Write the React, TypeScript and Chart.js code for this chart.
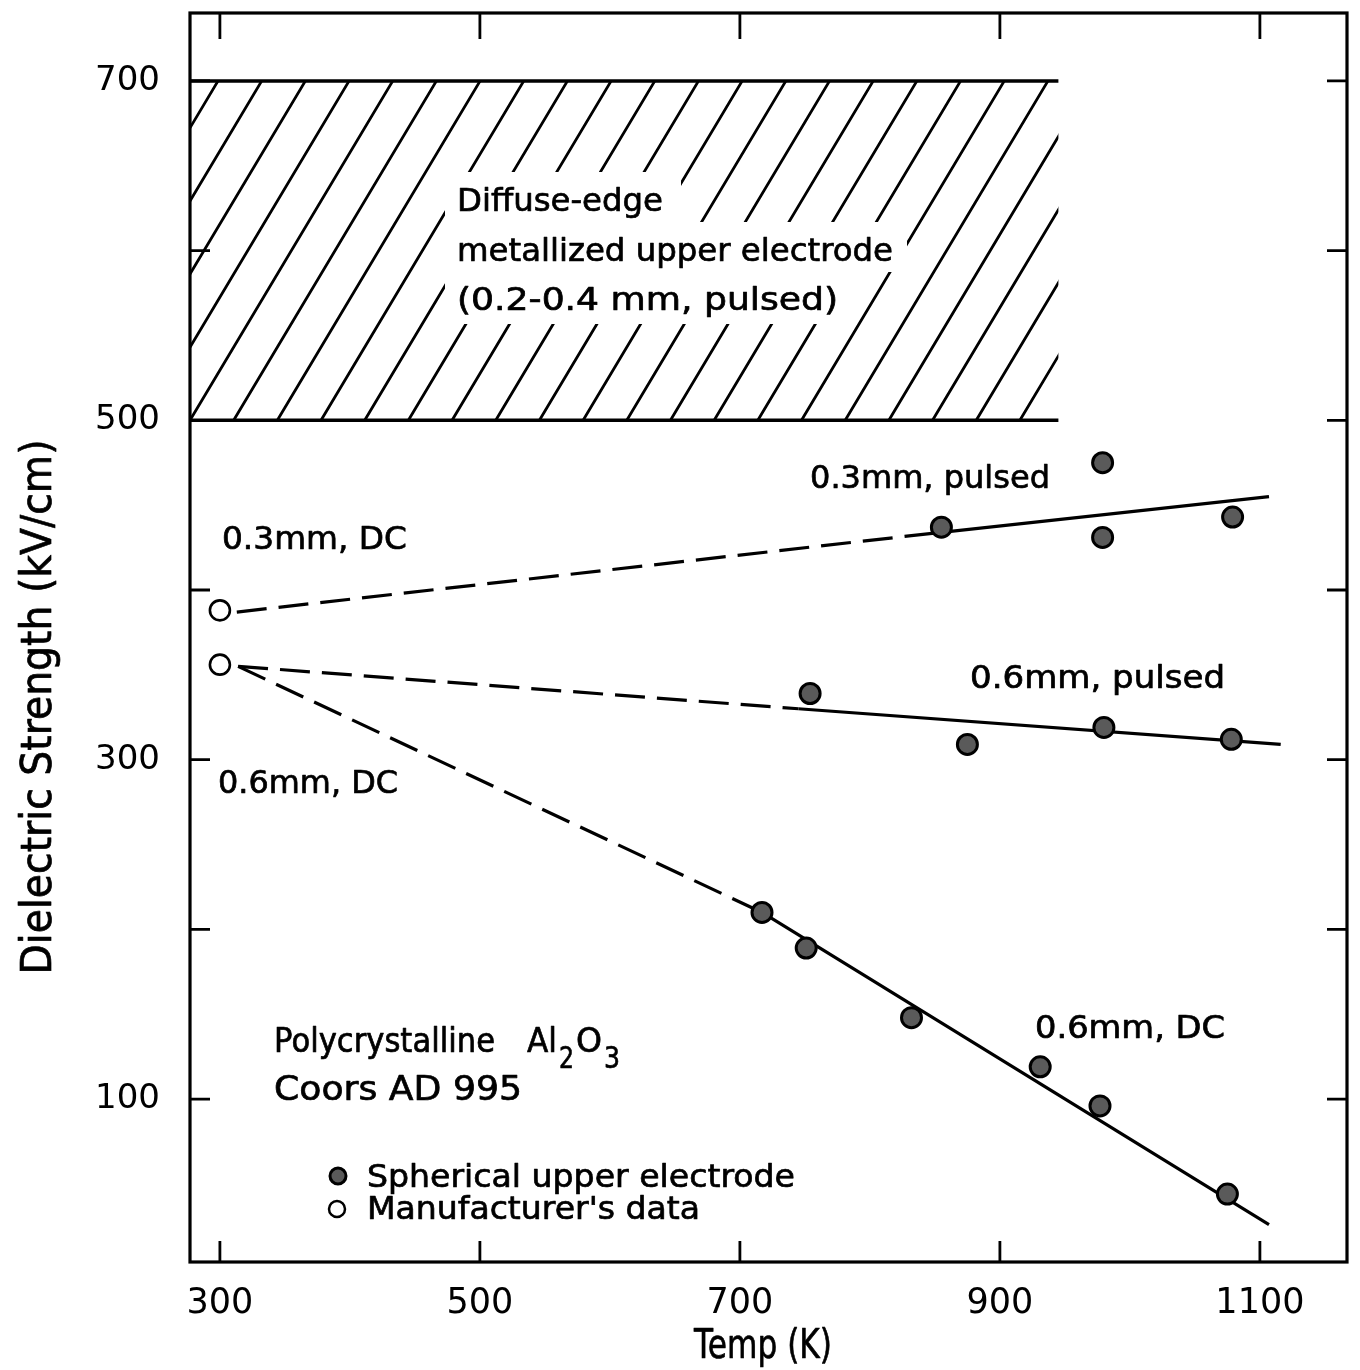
import React, { useEffect, useRef } from 'react';
import { Chart, registerables } from 'chart.js';

Chart.register(...registerables);

// ---------- axes ----------
const xRange = [277, 1167];
const yRange = [4, 740];
const xTickValues = [300, 500, 700, 900, 1100];
const yTickValues = [100, 300, 500, 700];
const yTickMarkValues = [100, 200, 300, 400, 500, 600, 700];

// ---------- measured points: temperature (K) / dielectric strength (kV/cm) ----------
// Spherical upper electrode
const sph03PulsedT = [855, 979, 979, 1079];
const sph03PulsedE = [437, 475, 431, 443];
const sph06PulsedT = [754, 875, 980, 1078];
const sph06PulsedE = [339, 309, 319, 312];
const sph06DcT = [717, 751, 832, 931, 977, 1075];
const sph06DcE = [210, 189, 148, 119, 96, 44];
// Manufacturer's data
const mfrT = [300, 300];
const mfrE = [388, 356];

// ---------- drawn trend lines ----------
const line03DashT = [313, 855];
const line03DashE = [387, 434];
const line03SolidT = [855, 1107];
const line03SolidE = [434, 455];
const line06PulsedDashT = [314, 745];
const line06PulsedDashE = [355, 330];
const line06PulsedSolidT = [745, 1116];
const line06PulsedSolidE = [330, 309];
const line06DcDashT = [314, 717];
const line06DcDashE = [355, 210];
const line06DcSolidT = [717, 1107];
const line06DcSolidE = [210, 26];

// ---------- hatched band (diffuse-edge metallized electrode, 0.2-0.4 mm pulsed) ----------
const bandT = [277, 945];
const bandE = [500, 700];

const FONT = '"DejaVu Sans", sans-serif';

const pts = (t: number[], e: number[]) => t.map((v, i) => ({ x: v, y: e[i] }));

function fitText(
  ctx: CanvasRenderingContext2D,
  text: string,
  x: number,
  baseline: number,
  size: number,
  width: number,
  align: 'left' | 'center' = 'left'
) {
  ctx.save();
  ctx.font = `${size}px ${FONT}`;
  const w = ctx.measureText(text).width;
  ctx.translate(x, baseline);
  ctx.scale(width / w, 1);
  ctx.textBaseline = 'alphabetic';
  ctx.textAlign = 'left';
  ctx.fillStyle = '#000';
  ctx.strokeStyle = '#000';
  ctx.lineWidth = 0.7;
  ctx.lineJoin = 'round';
  const dx = align === 'center' ? -w / 2 : 0;
  ctx.fillText(text, dx, 0);
  ctx.strokeText(text, dx, 0);
  ctx.restore();
}

const hatchTexts = [
  { text: 'Diffuse-edge', x: 457, y: 211, size: 32, w: 206, clear: [445, 172, 236, 50] },
  { text: 'metallized upper electrode', x: 457, y: 261, size: 32, w: 436, clear: [445, 222, 462, 50] },
  { text: '(0.2-0.4 mm, pulsed)', x: 457, y: 310, size: 32, w: 381, clear: [445, 272, 405, 52] },
];

const plainTexts = [
  { text: '0.3mm, pulsed', x: 810, y: 488, size: 32, w: 240 },
  { text: '0.3mm, DC', x: 222, y: 549, size: 32, w: 185 },
  { text: '0.6mm, pulsed', x: 970, y: 688, size: 32, w: 255 },
  { text: '0.6mm, DC', x: 218, y: 793, size: 32, w: 180 },
  { text: '0.6mm, DC', x: 1035, y: 1038, size: 32, w: 190 },
  { text: 'Polycrystalline', x: 274, y: 1052, size: 33, w: 221 },
  { text: 'Al', x: 527, y: 1052, size: 33, w: 30 },
  { text: '2', x: 559, y: 1068, size: 30, w: 15 },
  { text: 'O', x: 576, y: 1052, size: 33, w: 26 },
  { text: '3', x: 604, y: 1068, size: 30, w: 16 },
  { text: 'Coors AD 995', x: 274, y: 1100, size: 33, w: 248 },
  { text: 'Spherical upper electrode', x: 367, y: 1187, size: 32, w: 428 },
  { text: "Manufacturer's data", x: 367, y: 1219, size: 32, w: 333 },
];

const decorPlugin = {
  id: 'decor',
  beforeDatasetsDraw(chart: any) {
    const ctx: CanvasRenderingContext2D = chart.ctx;
    const xs = chart.scales.x;
    const ys = chart.scales.y;
    const x0 = xs.getPixelForValue(bandT[0]);
    const x1 = xs.getPixelForValue(bandT[1]);
    const yLo = ys.getPixelForValue(bandE[0]);
    const yHi = ys.getPixelForValue(bandE[1]);
    // hatch
    ctx.save();
    ctx.beginPath();
    ctx.rect(x0, yHi, x1 - x0, yLo - yHi);
    ctx.clip();
    ctx.strokeStyle = '#000';
    ctx.lineWidth = 2.8;
    ctx.lineCap = 'round';
    const step = 33.6;
    const run = 156;
    for (let t = bandT[0] - 6 * step; t < bandT[1] + step; t += step) {
      ctx.beginPath();
      ctx.moveTo(xs.getPixelForValue(t), yLo);
      ctx.lineTo(xs.getPixelForValue(t + run), yHi);
      ctx.stroke();
    }
    ctx.restore();
    // text gaps
    ctx.save();
    ctx.fillStyle = '#fff';
    hatchTexts.forEach((h) => ctx.fillRect(h.clear[0], h.clear[1], h.clear[2], h.clear[3]));
    ctx.restore();
    hatchTexts.forEach((h) => fitText(ctx, h.text, h.x, h.y, h.size, h.w));
    // band boundaries
    ctx.save();
    ctx.strokeStyle = '#000';
    ctx.lineWidth = 3.5;
    ctx.beginPath();
    ctx.moveTo(x0, yHi);
    ctx.lineTo(x1, yHi);
    ctx.moveTo(x0, yLo);
    ctx.lineTo(x1, yLo);
    ctx.stroke();
    ctx.restore();
  },
  afterDraw(chart: any) {
    const ctx: CanvasRenderingContext2D = chart.ctx;
    const { left, right, top, bottom } = chart.chartArea;
    const xs = chart.scales.x;
    const ys = chart.scales.y;
    ctx.save();
    ctx.strokeStyle = '#000';
    ctx.lineWidth = 3.2;
    ctx.strokeRect(left, top, right - left, bottom - top);
    ctx.lineWidth = 2.8;
    ctx.beginPath();
    xTickValues.forEach((v) => {
      const px = xs.getPixelForValue(v);
      ctx.moveTo(px, top);
      ctx.lineTo(px, top + 26);
      ctx.moveTo(px, bottom);
      ctx.lineTo(px, bottom - 21);
    });
    yTickMarkValues.forEach((v) => {
      const py = ys.getPixelForValue(v);
      ctx.moveTo(left, py);
      ctx.lineTo(left + 20, py);
      ctx.moveTo(right, py);
      ctx.lineTo(right - 20, py);
    });
    ctx.stroke();
    ctx.restore();

    plainTexts.forEach((t) => fitText(ctx, t.text, t.x, t.y, t.size, t.w));

    // legend symbols
    ctx.save();
    ctx.lineWidth = 3;
    ctx.strokeStyle = '#000';
    ctx.fillStyle = '#5a5a5a';
    ctx.beginPath();
    ctx.arc(338, 1176, 8, 0, Math.PI * 2);
    ctx.fill();
    ctx.stroke();
    ctx.lineWidth = 2.5;
    ctx.fillStyle = '#fff';
    ctx.beginPath();
    ctx.arc(337, 1209, 8, 0, Math.PI * 2);
    ctx.fill();
    ctx.stroke();
    ctx.restore();

    // axis titles
    fitText(ctx, 'Temp (K)', 763, 1358, 40, 138, 'center');
    ctx.save();
    ctx.translate(51, 707);
    ctx.rotate(-Math.PI / 2);
    fitText(ctx, 'Dielectric Strength (kV/cm)', 0, 0, 42, 535, 'center');
    ctx.restore();
  },
};

export default function App() {
  const ref = useRef<HTMLCanvasElement | null>(null);

  useEffect(() => {
    if (!ref.current) return;
    const lineStyle = (dash: number[]) => ({
      type: 'scatter' as const,
      showLine: true,
      pointRadius: 0,
      borderColor: '#000',
      borderWidth: 3.2,
      borderDash: dash,
      borderCapStyle: 'butt' as const,
      order: 5,
    });
    const DASH = [30, 12];
    const chart = new Chart(ref.current, {
      type: 'scatter',
      data: {
        datasets: [
          {
            label: 'Spherical upper electrode',
            data: [...pts(sph03PulsedT, sph03PulsedE), ...pts(sph06PulsedT, sph06PulsedE), ...pts(sph06DcT, sph06DcE)],
            pointRadius: 10,
            pointBorderWidth: 3,
            pointBackgroundColor: '#5a5a5a',
            pointBorderColor: '#000',
            order: 1,
          },
          {
            label: "Manufacturer's data",
            data: pts(mfrT, mfrE),
            pointRadius: 10,
            pointBorderWidth: 2.6,
            pointBackgroundColor: '#fff',
            pointBorderColor: '#000',
            order: 1,
          },
          { label: '0.3mm dashed', data: pts(line03DashT, line03DashE), ...lineStyle(DASH) },
          { label: '0.3mm pulsed', data: pts(line03SolidT, line03SolidE), ...lineStyle([]) },
          { label: '0.6mm dashed', data: pts(line06PulsedDashT, line06PulsedDashE), ...lineStyle(DASH) },
          { label: '0.6mm pulsed', data: pts(line06PulsedSolidT, line06PulsedSolidE), ...lineStyle([]) },
          { label: '0.6mm DC dashed', data: pts(line06DcDashT, line06DcDashE), ...lineStyle(DASH) },
          { label: '0.6mm DC', data: pts(line06DcSolidT, line06DcSolidE), ...lineStyle([]) },
        ] as any,
      },
      options: {
        responsive: false,
        animation: false,
        devicePixelRatio: 1,
        layout: { padding: { top: 12, right: 13, left: 0, bottom: 0 } },
        plugins: { legend: { display: false }, tooltip: { enabled: false } },
        scales: {
          x: {
            type: 'linear',
            min: xRange[0],
            max: xRange[1],
            grid: { display: false },
            border: { display: false },
            afterBuildTicks: (s: any) => {
              s.ticks = xTickValues.map((v) => ({ value: v }));
            },
            afterFit: (s: any) => {
              s.height = 108;
              s.paddingLeft = 0;
              s.paddingRight = 0;
              s.paddingTop = 0;
              s.paddingBottom = 0;
            },
            ticks: {
              color: '#000',
              font: { family: 'DejaVu Sans', size: 35 },
              padding: 13,
              maxRotation: 0,
              autoSkip: false,
              callback: (v: any) => String(v),
            },
          },
          y: {
            type: 'linear',
            min: yRange[0],
            max: yRange[1],
            grid: { display: false },
            border: { display: false },
            afterBuildTicks: (s: any) => {
              s.ticks = yTickValues.map((v) => ({ value: v }));
            },
            afterFit: (s: any) => {
              s.width = 190;
              s.paddingLeft = 0;
              s.paddingRight = 0;
              s.paddingTop = 0;
              s.paddingBottom = 0;
            },
            ticks: {
              color: '#000',
              font: { family: 'DejaVu Sans', size: 34 },
              padding: 22,
              autoSkip: false,
              callback: (v: any) => String(v),
            },
          },
        },
      } as any,
      plugins: [decorPlugin],
    });
    return () => chart.destroy();
  }, []);

  return (
    <div style={{ position: 'fixed', left: 0, top: 0, width: 1360, height: 1370, background: '#fff' }}>
      <canvas ref={ref} width={1360} height={1370} style={{ width: 1360, height: 1370, display: 'block' }} />
    </div>
  );
}
